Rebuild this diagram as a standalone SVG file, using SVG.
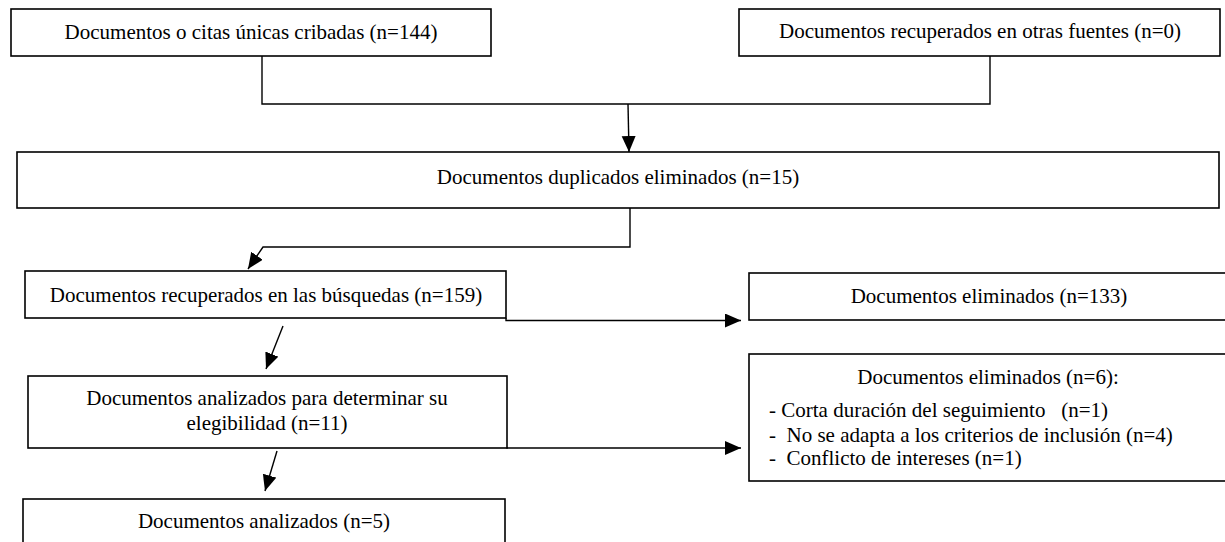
<svg xmlns="http://www.w3.org/2000/svg" width="1225" height="542" viewBox="0 0 1225 542">
<style>
.box{fill:#fff;stroke:#000;stroke-width:1.6}
.t{font-family:"Liberation Serif","Times New Roman",serif;font-size:21px;fill:#000}
.c{text-anchor:middle}
.ln{fill:none;stroke:#000;stroke-width:1.4}
</style>
<defs>
<marker id="ah" markerUnits="userSpaceOnUse" markerWidth="18" markerHeight="16" refX="16" refY="7" orient="auto">
<path d="M0,0 L16,7 L0,14 Z" fill="#000"/>
</marker>
</defs>
<rect width="1225" height="542" fill="#fff"/>
<g id="connectors">
<polyline class="ln" points="262,56 262,104 990,104 990,56"/>
<line class="ln" x1="628" y1="104" x2="629" y2="152" marker-end="url(#ah)"/>
<polyline class="ln" points="630,208 630,247 263,247 248,269" marker-end="url(#ah)"/>
<line class="ln" x1="283" y1="326" x2="266" y2="369" marker-end="url(#ah)"/>
<polyline class="ln" points="506,318 506,320.5 741,320.5" marker-end="url(#ah)"/>
<line class="ln" x1="277" y1="451" x2="265" y2="491" marker-end="url(#ah)"/>
<polyline class="ln" points="507,447 507,448 741,448" marker-end="url(#ah)"/>
</g>
<g id="n1">
<rect class="box" x="11" y="9" width="480" height="47"/>
<text class="t c" x="251" y="39">Documentos o citas únicas cribadas (n=144)</text>
</g>
<g id="n2">
<rect class="box" x="739" y="9" width="481" height="47"/>
<text class="t c" x="980" y="38">Documentos recuperados en otras fuentes (n=0)</text>
</g>
<g id="n3">
<rect class="box" x="17" y="152" width="1202" height="56"/>
<text class="t c" x="618" y="184">Documentos duplicados eliminados (n=15)</text>
</g>
<g id="n4">
<rect class="box" x="25" y="271" width="481" height="47"/>
<text class="t c" x="266" y="302">Documentos recuperados en las búsquedas (n=159)</text>
</g>
<g id="n5">
<rect class="box" x="749" y="273" width="480" height="47"/>
<text class="t c" x="989" y="303">Documentos eliminados (n=133)</text>
</g>
<g id="n6">
<rect class="box" x="28" y="376" width="479" height="72"/>
<text class="t c" x="267" y="405">Documentos analizados para determinar su</text>
<text class="t c" x="267" y="430">elegibilidad (n=11)</text>
</g>
<g id="n7">
<rect class="box" x="749" y="354" width="480" height="127"/>
<text class="t c" x="988" y="384">Documentos eliminados (n=6):</text>
<text class="t" x="769" y="417" xml:space="preserve">- Corta duración del seguimiento   (n=1)</text>
<text class="t" x="769" y="442" xml:space="preserve">-  No se adapta a los criterios de inclusión (n=4)</text>
<text class="t" x="769" y="465" xml:space="preserve">-  Conflicto de intereses (n=1)</text>
</g>
<g id="n8">
<rect class="box" x="23" y="499" width="482" height="50"/>
<text class="t c" x="264" y="528">Documentos analizados (n=5)</text>
</g>
</svg>
